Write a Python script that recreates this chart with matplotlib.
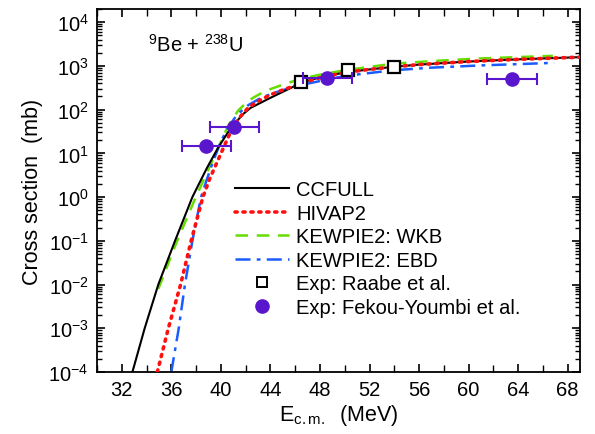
import matplotlib
matplotlib.use("Agg")
import matplotlib.pyplot as plt
from matplotlib.ticker import LogLocator, MultipleLocator, NullFormatter, FixedLocator
from matplotlib.lines import Line2D
import numpy as np

plt.rcParams['font.family'] = ['Liberation Sans', 'DejaVu Sans']
plt.rcParams['mathtext.fontset'] = 'custom'
plt.rcParams['mathtext.rm'] = 'Liberation Sans'
plt.rcParams['mathtext.it'] = 'Liberation Sans'

# CCFULL (black solid): E (MeV), log10(sigma/mb)
ccfull_E = [32.86, 33.85, 34.95, 36.3, 37.7, 38.9, 39.8, 40.8, 41.8, 42.4, 44.0, 45.6, 46.55, 48.0, 50.0,
            52.0, 54.0, 56.0, 60.0, 64.0, 69.0]
ccfull_logs = [-4.0, -3.0, -2.0, -1.0, 0.0, 0.68, 1.14, 1.58, 1.90, 2.04, 2.27, 2.49, 2.62, 2.74, 2.85,
               2.92, 2.98, 3.03, 3.10, 3.15, 3.20]
# HIVAP2 (red dotted)
hivap_E = [34.87, 35.76, 36.75, 37.6, 38.55, 39.1, 39.83, 40.64, 41.44, 42.2, 43.05, 44.0, 45.0, 46.0,
           47.0, 48.0, 50.0, 52.0, 54.0, 56.0, 60.0, 64.0, 69.0]
hivap_logs = [-4.0, -3.0, -2.0, -1.0, 0.0, 0.42, 0.886, 1.40, 1.80, 2.04, 2.20, 2.34, 2.45, 2.55,
              2.65, 2.73, 2.85, 2.92, 2.98, 3.03, 3.10, 3.15, 3.20]
# KEWPIE2: WKB (green dashed)
wkb_E = [34.95, 36.4, 37.9, 39.4, 40.6, 41.4, 42.1, 42.65, 43.7, 45.1, 46.4, 48.0, 50.0, 53.9, 57.0, 60.9, 66.8]
wkb_logs = [-2.1, -1.05, -0.05, 0.886, 1.64, 1.98, 2.17, 2.28, 2.44, 2.58, 2.70, 2.80, 2.90, 3.05, 3.11, 3.17, 3.23]
# KEWPIE2: EBD (blue dash-dot)
ebd_E = [36.0, 36.6, 37.1, 37.7, 38.4, 38.9, 39.4, 40.0, 40.6, 41.3, 42.2, 43.3, 44.8, 46.4, 50.0, 53.9, 57.0, 60.9, 66.9]
ebd_logs = [-4.0, -3.0, -2.0, -1.0, 0.0, 0.43, 0.84, 1.27, 1.60, 1.88, 2.10, 2.28, 2.43, 2.56, 2.77, 2.90, 2.96, 3.01, 3.07]

# Experimental data
raabe_E = [46.5, 50.3, 54.0]
raabe_sigma = [435, 815, 950]
fekou_E = [38.84, 41.1, 48.6, 63.5]
fekou_sigma = [15, 41, 533, 507]
fekou_Eerr = [2.0, 2.0, 2.0, 2.0]

purple = '#5A16CC'

fig = plt.figure(figsize=(5.95, 4.35), dpi=100)
ax = fig.add_axes([0.163, 0.1425, 0.812, 0.8345])

ax.plot(ccfull_E, 10**np.array(ccfull_logs), color='black', lw=1.5, zorder=3)
ax.plot(hivap_E, 10**np.array(hivap_logs), color='#FF1010', lw=2.6, ls=(0, (0.6, 1.6)),
        dash_capstyle='round', zorder=4)
ax.plot(wkb_E, 10**np.array(wkb_logs), color='#66DD00', lw=1.8, ls=(0, (5, 3.5)), zorder=2)
ax.plot(ebd_E, 10**np.array(ebd_logs), color='#1A5CFF', lw=1.8, ls=(0, (6, 2.5, 1.5, 2.5)), zorder=2)

ax.plot(raabe_E, raabe_sigma, ls='none', marker='s', ms=8, mfc='white', mec='black', mew=1.6, zorder=5)
ax.errorbar(fekou_E, fekou_sigma, xerr=fekou_Eerr, fmt='o', ms=9.5, color=purple, mec=purple,
            ecolor=purple, elinewidth=1.5, capsize=4.5, capthick=1.5, zorder=6)

ax.set_yscale('log')
ax.set_xlim(30, 69)
ax.set_ylim(1e-4, 2e4)

ax.xaxis.set_major_locator(FixedLocator([32, 36, 40, 44, 48, 52, 56, 60, 64, 68]))
ax.xaxis.set_minor_locator(MultipleLocator(2))
ax.yaxis.set_major_locator(LogLocator(base=10, numticks=20))
ax.yaxis.set_minor_locator(LogLocator(base=10, subs=np.arange(2, 10), numticks=20))
ax.yaxis.set_minor_formatter(NullFormatter())

ax.tick_params(axis='both', which='both', direction='in', top=True, right=True)
ax.tick_params(axis='both', which='major', length=6, width=1.2, labelsize=14.5, pad=6)
ax.tick_params(axis='both', which='minor', length=3.5, width=1.0)
ax.tick_params(axis='x', which='minor', length=5)
for s in ax.spines.values():
    s.set_linewidth(1.3)

ax.set_xlabel(r'E$_{\rm c.m.}$  (MeV)', fontsize=15.5, labelpad=2)
ax.set_ylabel('Cross section  (mb)', fontsize=15.5, labelpad=4)

ax.text(0.105, 0.935, r'$^{9}$Be + $^{238}$U', transform=ax.transAxes, fontsize=14.5, va='top', ha='left')

handles = [
    Line2D([], [], color='black', lw=1.5),
    Line2D([], [], color='#FF1010', lw=2.6, ls=(0, (0.6, 1.6)), dash_capstyle='round'),
    Line2D([], [], color='#66DD00', lw=1.8, ls=(0, (5, 3.5))),
    Line2D([], [], color='#1A5CFF', lw=1.8, ls=(0, (6, 2.5, 1.5, 2.5))),
    Line2D([], [], ls='none', marker='s', ms=7.5, mfc='white', mec='black', mew=1.4),
    Line2D([], [], ls='none', marker='o', ms=9.5, color=purple),
]
labels = ['CCFULL', 'HIVAP2', 'KEWPIE2: WKB', 'KEWPIE2: EBD', 'Exp: Raabe et al.', 'Exp: Fekou-Youmbi et al.']
ax.legend(handles, labels, loc='upper left', bbox_to_anchor=(0.268, 0.55), frameon=False, fontsize=14.5,
          handlelength=2.7, handletextpad=0.35, labelspacing=0.22, borderaxespad=0)
fig.savefig('out.png', dpi=100)
